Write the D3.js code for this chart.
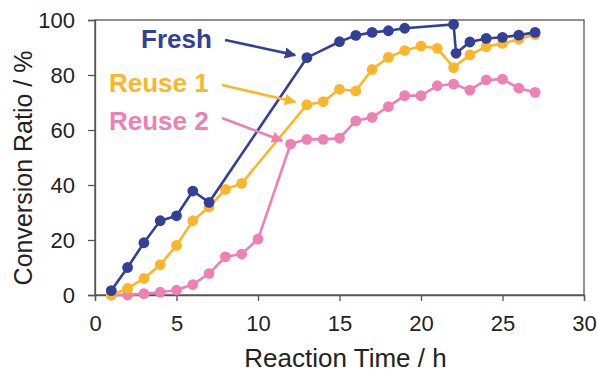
<!DOCTYPE html>
<html>
<head>
<meta charset="utf-8">
<script src="https://cdn.jsdelivr.net/npm/d3@7"></script>
<style>
	body { margin: 0; background: #fff; }
	svg { display: block; font-family: "Liberation Sans", Arial, sans-serif; }
</style>
</head>
<body>
<div id="chart"></div>
<script>
// Data
var freshX  = [1, 2, 3, 4, 5, 6, 7, 13, 15, 16, 17, 18, 19, 22, 22.15, 23, 24, 25, 26, 27];
var freshY  = [1.6, 10, 19, 27, 28.8, 37.8, 33.7, 86.3, 92.1, 94.4, 95.5, 96.1, 97, 98.4, 87.9, 92, 93.3, 93.7, 94.5, 95.5];

var reuse1X = [1, 2, 3, 4, 5, 6, 7, 8, 9, 13, 14, 15, 16, 17, 18, 19, 20, 21, 22, 23, 24, 25, 26, 27];
var reuse1Y = [0, 2.4, 6, 11, 18, 27, 32, 38.4, 40.6, 69.2, 70.3, 74.8, 74.2, 82, 86.4, 88.9, 90.5, 89.7, 82.7, 87.3, 90.3, 91.5, 93, 94.7];

var reuse2X = [1, 2, 3, 4, 5, 6, 7, 8, 9, 10, 12, 13, 14, 15, 16, 17, 18, 19, 20, 21, 22, 23, 24, 25, 26, 27];
var reuse2Y = [0, 0, 0.5, 1, 1.8, 3.8, 7.8, 13.9, 14.9, 20.3, 54.9, 56.6, 56.6, 57, 63.3, 64.6, 68.5, 72.5, 72.5, 76.1, 76.7, 74.5, 78.2, 78.5, 75.2, 73.7];

var xTicks = [0, 5, 10, 15, 20, 25, 30];
var yTicks = [0, 20, 40, 60, 80, 100];

var seriesNames  = ["Fresh", "Reuse 1", "Reuse 2"];
var seriesColors = ["#343f98", "#fbb62b", "#ef80b3"];

var W = 598, H = 373;
var margin = { left: 95, right: 14, top: 20, bottom: 78 };

var svg = d3.select("#chart").append("svg")
	.attr("width", W)
	.attr("height", H);

var x = d3.scaleLinear().domain([0, 30]).range([margin.left, W - margin.right]);
var y = d3.scaleLinear().domain([0, 100]).range([H - margin.bottom, margin.top]);

// frame
svg.append("rect")
	.attr("x", x(0)).attr("y", y(100))
	.attr("width", x(30) - x(0)).attr("height", y(0) - y(100))
	.attr("fill", "none").attr("stroke", "#555").attr("stroke-width", 1.3);

// axes
var xAxis = svg.append("g")
	.attr("transform", "translate(0," + y(0) + ")")
	.call(d3.axisBottom(x).tickValues(xTicks).tickSize(6).tickPadding(14));
var yAxis = svg.append("g")
	.attr("transform", "translate(" + x(0) + ",0)")
	.call(d3.axisLeft(y).tickValues(yTicks).tickSize(7).tickPadding(13));

[xAxis, yAxis].forEach(function (g) {
	g.select(".domain").attr("stroke", "#555").attr("stroke-width", 1.3);
	g.selectAll(".tick line").attr("stroke", "#555").attr("stroke-width", 1.3);
	g.selectAll(".tick text")
		.attr("fill", "#222")
		.style("font-size", "22px")
		.style("font-family", "'Liberation Sans', Arial, sans-serif");
});

// axis titles
svg.append("text")
	.attr("x", (x(0) + x(30)) / 2 + 6).attr("y", 367)
	.attr("text-anchor", "middle")
	.attr("fill", "#222")
	.style("font-size", "26px")
	.text("Reaction Time / h");

svg.append("text")
	.attr("transform", "translate(32,168) rotate(-90)")
	.attr("text-anchor", "middle")
	.attr("fill", "#222")
	.style("font-size", "25px")
	.text("Conversion Ratio / %");

// series
var allSeries = [
	{ xs: freshX,  ys: freshY },
	{ xs: reuse1X, ys: reuse1Y },
	{ xs: reuse2X, ys: reuse2Y }
];

var lineFunction = d3.line()
	.x(function (d) { return x(d[0]); })
	.y(function (d) { return y(d[1]); });

// draw back to front: Reuse 2, Reuse 1, Fresh
for (var i = allSeries.length - 1; i >= 0; i--) {
	var pts = d3.zip(allSeries[i].xs, allSeries[i].ys);
	var g = svg.append("g");
	g.append("path")
		.attr("d", lineFunction(pts))
		.attr("fill", "none")
		.attr("stroke", seriesColors[i])
		.attr("stroke-width", 2.6);
	g.selectAll("circle")
		.data(pts)
		.enter().append("circle")
		.attr("cx", function (d) { return x(d[0]); })
		.attr("cy", function (d) { return y(d[1]); })
		.attr("r", 5.4)
		.attr("fill", seriesColors[i]);
}

// labels with arrows pointing at a data point of each series
var labelPos    = [[141, 48], [109, 92], [109, 130]];
var arrowFrom   = [[225, 40], [222, 85], [222, 118]];
var arrowTarget = [[13, 86.3], [13, 69.2], [12, 54.9]];
var arrowBack   = [12, 12, 9];

var defs = svg.append("defs");
seriesColors.forEach(function (c, k) {
	defs.append("marker")
		.attr("id", "arrow" + k)
		.attr("viewBox", "0 0 10 10")
		.attr("refX", 9).attr("refY", 5)
		.attr("markerWidth", 4.4).attr("markerHeight", 4.4)
		.attr("orient", "auto")
		.append("path")
		.attr("d", "M0,0 L10,5 L0,10 Z")
		.attr("fill", c);
});

seriesNames.forEach(function (name, k) {
	svg.append("text")
		.attr("x", labelPos[k][0]).attr("y", labelPos[k][1])
		.attr("fill", seriesColors[k])
		.style("font-size", "26px")
		.style("font-weight", "bold")
		.text(name);

	var tx = x(arrowTarget[k][0]), ty = y(arrowTarget[k][1]);
	var fx = arrowFrom[k][0], fy = arrowFrom[k][1];
	var dx = tx - fx, dy = ty - fy, len = Math.sqrt(dx * dx + dy * dy);
	var ex = tx - dx / len * arrowBack[k], ey = ty - dy / len * arrowBack[k];
	svg.append("line")
		.attr("x1", fx).attr("y1", fy)
		.attr("x2", ex).attr("y2", ey)
		.attr("stroke", seriesColors[k])
		.attr("stroke-width", 2.6)
		.attr("marker-end", "url(#arrow" + k + ")");
});
</script>
</body>
</html>
